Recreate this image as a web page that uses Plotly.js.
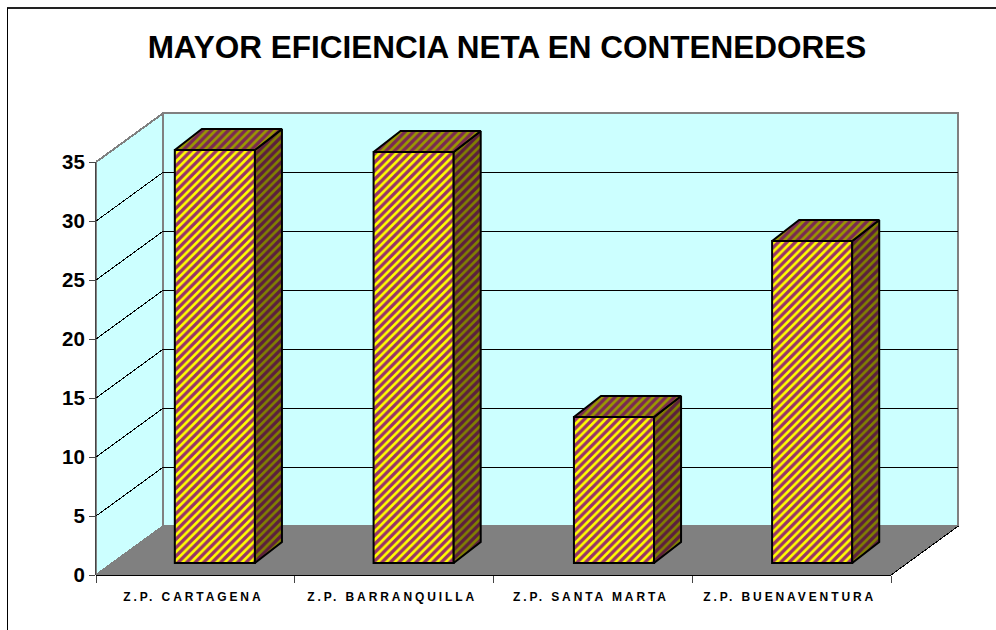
<!DOCTYPE html>
<html>
<head>
<meta charset="utf-8">
<script src="https://cdn.plot.ly/plotly-3.0.1.min.js"></script>
<style>
html,body{margin:0;padding:0;background:#fff;}
#chart{width:996px;height:630px;}
.xtick text{letter-spacing:2.9px;}
.shapelayer path{shape-rendering:crispEdges;}
</style>
</head>
<body>
<div id="chart"></div>
<script>
const categories = ["Z.P. CARTAGENA","Z.P. BARRANQUILLA","Z.P. SANTA MARTA","Z.P. BUENAVENTURA"];
const values = [35.0,34.83,12.37,27.29];
const yTicks = [0,5,10,15,20,25,30,35];
const titleText = "MAYOR EFICIENCIA NETA EN CONTENEDORES";

// 3D projection, in axis units
const depthX = 0.339, depthY = 4.153;
const barWidth = 0.403, frontDepth = 0.245, barDx = 0.136, barDy = 1.78;
const barShift = [0.015, 0.015, 0.023, 0.02];
const wallColor = "#CCFFFF", floorColor = "#808080";
const yMax = 35, xMin = -0.5, xMax = 3.5;
const xTop = 3.852, yTop = 39.41;

const L = 96, R = 35, T = 110, B = 55, W = 996, H = 630;
const px = p => (p - L) / (W - L - R);
const py = p => 1 - (p - T) / (H - T - B);

function poly(pts){ return "M" + pts.map(p => p.join(",")).join("L") + "Z"; }
const shapes = [];
function area(pts, fill, color, width){
  shapes.push({type:"path", path:poly(pts), xref:"x", yref:"y", layer:"below",
    fillcolor:fill, line:{color:color, width:width}});
}
function seg(x0,y0,x1,y1,color,width){
  shapes.push({type:"line", x0,y0,x1,y1, xref:"x", yref:"y", layer:"below", line:{color,width}});
}
// walls and floor
area([[xMin,0],[xMin+depthX,depthY],[xMin+depthX,yMax+depthY],[xMin,yMax]], wallColor, "#808080", 2);
area([[xMin+depthX,depthY],[xMax+depthX,depthY],[xMax+depthX,yMax+depthY],[xMin+depthX,yMax+depthY]], wallColor, "#808080", 2);
area([[xMin,0],[xMax,0],[xMax+depthX,depthY],[xMin+depthX,depthY]], floorColor, floorColor, 0);
// gridlines
yTicks.filter(t => t > 0 && t < yMax).forEach(t => {
  seg(xMin, t, xMin+depthX, t+depthY, "#000", 1);
  seg(xMin+depthX, t+depthY, xMax+depthX, t+depthY, "#000", 1);
});
seg(xMax, 0, xMax+depthX, depthY, "#000", 1);
// axis lines (paper-anchored so they are not cut by the plot edge)
shapes.push({type:"line", xref:"paper", yref:"paper", x0:px(96), x1:px(891), y0:0, y1:0, layer:"below", line:{color:"#000", width:1.5}});
shapes.push({type:"line", xref:"paper", yref:"y", x0:0, x1:0, y0:0, y1:yMax, layer:"below", line:{color:"#444", width:1.5}});
// outer chart frame
shapes.push({type:"line", xref:"paper", yref:"paper", x0:px(7), x1:px(996), y0:py(8), y1:py(8), line:{color:"#222", width:1.5}});
shapes.push({type:"line", xref:"paper", yref:"paper", x0:px(7.5), x1:px(7.5), y0:py(8), y1:py(630), line:{color:"#000", width:1}});

const xs = categories.map((c,i) => i);
const frontX = xs.map(i => i + depthX*frontDepth + barShift[i]);
const base = depthY*frontDepth;

const traces = [{
  type:"bar", x:frontX, y:values, base:categories.map(()=>base), width:barWidth,
  marker:{color:"#FFFF00", line:{color:"#000", width:2},
    pattern:{shape:"/", fgcolor:"#993366", bgcolor:"#FFFF00", size:6, solidity:0.55, fillmode:"replace"}},
  hoverinfo:"skip", showlegend:false
}];
values.forEach((v,i) => {
  const x0 = frontX[i] - barWidth/2, x1 = frontX[i] + barWidth/2;
  const top = v + base;
  const side = {shape:"/", fgcolor:"#5C1F3D", bgcolor:"#808000", size:6, solidity:0.55, fillmode:"replace"};
  const lid = {shape:"/", fgcolor:"#7A2952", bgcolor:"#999900", size:6, solidity:0.55, fillmode:"replace"};
  traces.push({type:"scatter", mode:"lines", fill:"toself", fillcolor:"#808000", fillpattern:side,
    x:[x1,x1+barDx,x1+barDx,x1,x1], y:[base,base+barDy,top+barDy,top,base],
    line:{color:"#000", width:2}, hoverinfo:"skip", showlegend:false});
  traces.push({type:"scatter", mode:"lines", fill:"toself", fillcolor:"#999900", fillpattern:lid,
    x:[x0,x1,x1+barDx,x0+barDx,x0], y:[top,top,top+barDy,top+barDy,top],
    line:{color:"#000", width:2}, hoverinfo:"skip", showlegend:false});
});

const layout = {
  width:W, height:H, margin:{l:L,r:R,t:T,b:B,pad:0},
  paper_bgcolor:"#fff", plot_bgcolor:"rgba(0,0,0,0)", showlegend:false, barmode:"overlay",
  title:{text:"<b>"+titleText+"</b>", x:507/W, xanchor:"center", y:1-47/H, yanchor:"middle",
    font:{family:"Liberation Sans, Arial, sans-serif", size:31.5, color:"#000"}},
  xaxis:{range:[xMin,xTop], tickmode:"array", tickvals:xs, ticktext:categories.map(c=>"<b>"+c+"</b>"),
    ticks:"", showgrid:false, zeroline:false, showline:false, ticklen:0, ticklabelstandoff:13, ticklabelshift:-2,
    tickfont:{family:"Liberation Sans, Arial, sans-serif", size:12, color:"#000"},
    minor:{tickmode:"array", tickvals:[-0.5,0.5,1.5,2.5,3.5], ticks:"outside", ticklen:7, tickcolor:"#444", tickwidth:1, showgrid:false}},
  yaxis:{range:[0,yTop], tickmode:"array", tickvals:yTicks, ticktext:yTicks.map(t=>"<b>"+t+"</b>"),
    ticks:"outside", ticklen:6, tickcolor:"#444", tickwidth:1, showgrid:false, zeroline:false, showline:false,
    tickfont:{family:"Liberation Sans, Arial, sans-serif", size:20.5, color:"#000"}},
  shapes
};
Plotly.newPlot("chart", traces, layout, {displayModeBar:false, staticPlot:true});
</script>
</body>
</html>
